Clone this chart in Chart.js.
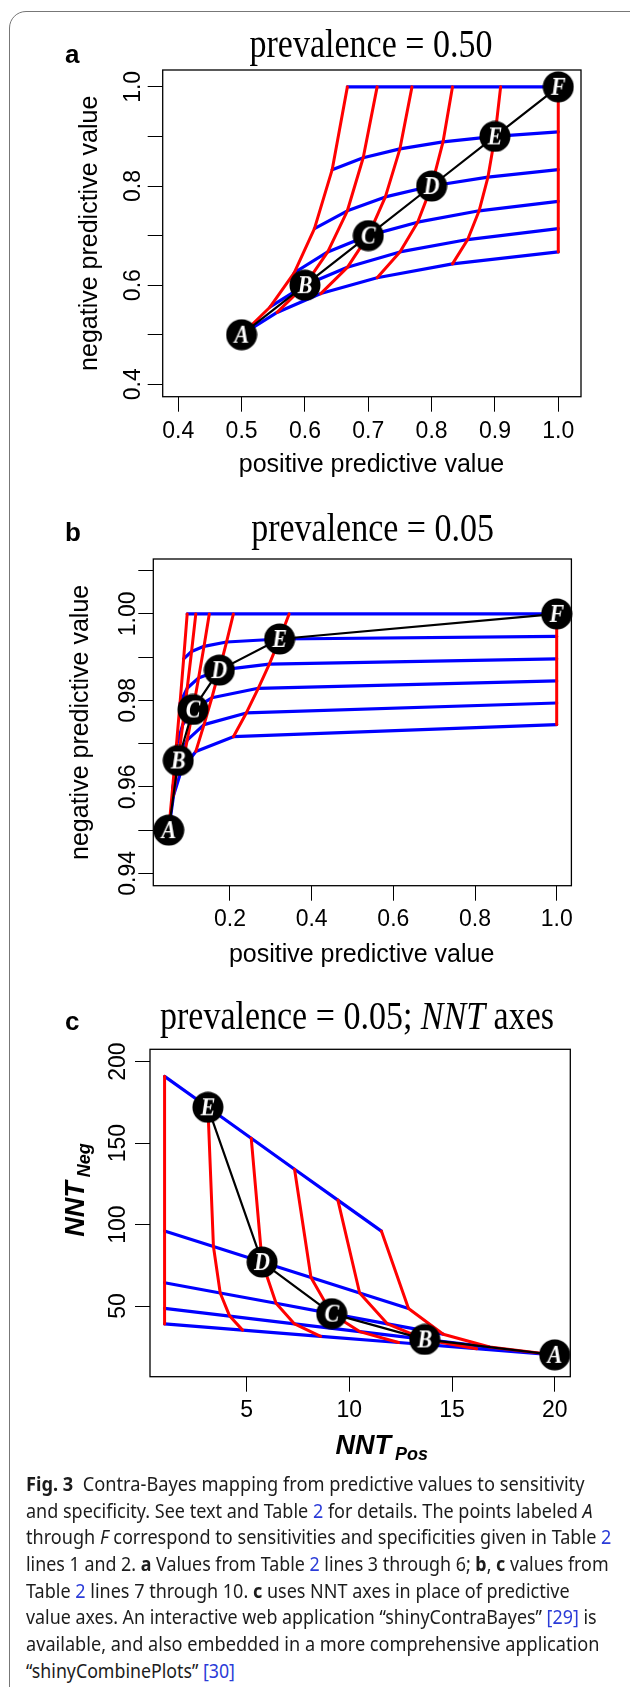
<!DOCTYPE html>
<html>
<head>
<meta charset="utf-8">
<script src="https://cdn.jsdelivr.net/npm/chart.js@4.4.0/dist/chart.umd.min.js"></script>
<style>
  html, body { margin: 0; padding: 0; background: #fff; }
  body { width: 630px; height: 1687px; position: relative; overflow: hidden; }
  #frame { position: absolute; left: 9px; top: 11px; width: 700px; height: 1800px;
           border: 1.4px solid #777; border-radius: 17px; box-sizing: border-box; }
  canvas.panel { position: absolute; left: 0; }
  #caption { position: absolute; left: 26px; top: 0; font-family: "Noto Sans", "Open Sans", sans-serif;
             font-size: 19.5px; line-height: 19.5px; color: #1c1c1c; }
  #caption .line { position: absolute; left: 0; white-space: nowrap; transform-origin: 0 0; }
  #caption .ref { color: #2a3bd8; }
</style>
</head>
<body>
<div id="frame"></div>
<canvas class="panel" id="chartA"></canvas>
<canvas class="panel" id="chartB"></canvas>
<canvas class="panel" id="chartC"></canvas>

<div id="caption">
  <div class="line" data-base="1490" data-w="558.5"><b>Fig. 3</b>&nbsp; Contra-Bayes mapping from predictive values to sensitivity</div>
  <div class="line" data-base="1516.7" data-w="566.6">and specificity. See text and Table <span class="ref">2</span> for details. The points labeled <i>A</i></div>
  <div class="line" data-base="1543.3" data-w="585.4">through <i>F</i> correspond to sensitivities and specificities given in Table <span class="ref">2</span></div>
  <div class="line" data-base="1570" data-w="582.6">lines 1 and 2. <b>a</b> Values from Table <span class="ref">2</span> lines 3 through 6; <b>b</b>, <b>c</b> values from</div>
  <div class="line" data-base="1596.7" data-w="543.7">Table <span class="ref">2</span> lines 7 through 10. <b>c</b> uses NNT axes in place of predictive</div>
  <div class="line" data-base="1623.3" data-w="570.6">value axes. An interactive web application “shinyContraBayes” <span class="ref">[29]</span> is</div>
  <div class="line" data-base="1650" data-w="573.4">available, and also embedded in a more comprehensive application</div>
  <div class="line" data-base="1676.7" data-w="208.9">“shinyCombinePlots” <span class="ref">[30]</span></div>
</div>

<script>
// rows = sensitivity 0.5 ... 1.0, columns = specificity 0.5 ... 1.0
// panel a, prevalence 0.50
const ppvA = [
  [0.500, 0.556, 0.625, 0.714, 0.833, 1.000],
  [0.545, 0.600, 0.667, 0.750, 0.857, 1.000],
  [0.583, 0.636, 0.700, 0.778, 0.875, 1.000],
  [0.615, 0.667, 0.727, 0.800, 0.889, 1.000],
  [0.643, 0.692, 0.750, 0.818, 0.900, 1.000],
  [0.667, 0.714, 0.769, 0.833, 0.909, 1.000]
];
const npvA = [
  [0.500, 0.545, 0.583, 0.615, 0.643, 0.667],
  [0.556, 0.600, 0.636, 0.667, 0.692, 0.714],
  [0.625, 0.667, 0.700, 0.727, 0.750, 0.769],
  [0.714, 0.750, 0.778, 0.800, 0.818, 0.833],
  [0.833, 0.857, 0.875, 0.889, 0.900, 0.909],
  [1.000, 1.000, 1.000, 1.000, 1.000, 1.000]
];

// panel b, prevalence 0.05
const ppvB = [
  [0.0500, 0.0617, 0.0806, 0.1163, 0.2083, 1.000],
  [0.0594, 0.0732, 0.0952, 0.1364, 0.2400, 1.000],
  [0.0686, 0.0843, 0.1094, 0.1556, 0.2692, 1.000],
  [0.0777, 0.0952, 0.1231, 0.1739, 0.2963, 1.000],
  [0.0865, 0.1059, 0.1364, 0.1915, 0.3214, 1.000],
  [0.0952, 0.1163, 0.1493, 0.2083, 0.3448, 1.000]
];
const npvB = [
  [0.9500, 0.9580, 0.9638, 0.9682, 0.9716, 0.9744],
  [0.9596, 0.9661, 0.9708, 0.9744, 0.9771, 0.9794],
  [0.9694, 0.9744, 0.9779, 0.9806, 0.9828, 0.9845],
  [0.9794, 0.9828, 0.9852, 0.9870, 0.9884, 0.9896],
  [0.9896, 0.9913, 0.9925, 0.9935, 0.9942, 0.9948],
  [1.0000, 1.0000, 1.0000, 1.0000, 1.0000, 1.0000]
];

// panel c, NNT axes (sensitivity 0.5 ... 0.9 only)
const nntPosC = [
  [20.00, 16.20, 12.40, 8.60, 4.80, 1.00],
  [16.83, 13.67, 10.50, 7.33, 4.17, 1.00],
  [14.57, 11.86, 9.14, 6.43, 3.71, 1.00],
  [12.88, 10.50, 8.13, 5.75, 3.38, 1.00],
  [11.56, 9.44, 7.33, 5.22, 3.11, 1.00]
];
const nntNegC = [
  [20.0, 23.8, 27.6, 31.4, 35.2, 39.0],
  [24.8, 29.5, 34.3, 39.0, 43.8, 48.5],
  [32.7, 39.0, 45.3, 51.7, 58.0, 64.3],
  [48.5, 58.0, 67.5, 77.0, 86.5, 96.0],
  [96.0, 115.0, 134.0, 153.0, 172.0, 191.0]
];

const pointLabels = ['A', 'B', 'C', 'D', 'E', 'F'];

const aXTicks = [0.4, 0.5, 0.6, 0.7, 0.8, 0.9, 1.0];
const aXTickLabels = ['0.4', '0.5', '0.6', '0.7', '0.8', '0.9', '1.0'];
const aYTicks = [0.4, 0.5, 0.6, 0.7, 0.8, 0.9, 1.0];
const aYLabelAt = [0.4, 0.6, 0.8, 1.0];
const aYLabels = ['0.4', '0.6', '0.8', '1.0'];

const bXTicks = [0.2, 0.4, 0.6, 0.8, 1.0];
const bXTickLabels = ['0.2', '0.4', '0.6', '0.8', '1.0'];
const bYTicks = [0.94, 0.95, 0.96, 0.97, 0.98, 0.99, 1.00, 1.01];
const bYLabelAt = [0.94, 0.96, 0.98, 1.00];
const bYLabels = ['0.94', '0.96', '0.98', '1.00'];

const cXTicks = [5, 10, 15, 20];
const cXTickLabels = ['5', '10', '15', '20'];
const cYTicks = [50, 100, 150, 200];
const cYLabelAt = [50, 100, 150, 200];
const cYLabels = ['50', '100', '150', '200'];

const SANS = '"Liberation Sans", Arial, Helvetica, sans-serif';
const SERIF = '"Liberation Serif", "Times New Roman", serif';
const BLUE = '#0000ff';
const RED = '#ff0000';

function markerImage(letter) {
  const c = document.createElement('canvas');
  c.width = 32; c.height = 32;
  const g = c.getContext('2d');
  g.fillStyle = '#000';
  g.beginPath(); g.arc(16, 16, 15.5, 0, Math.PI * 2); g.fill();
  g.fillStyle = '#fff';
  g.font = 'italic bold 22px ' + SERIF;
  g.textAlign = 'center';
  g.textBaseline = 'alphabetic';
  g.save();
  g.translate(16, 23.5);
  g.scale(1, 1.1);
  g.fillText(letter, 0, 0);
  g.restore();
  return c;
}

function txt(ctx, s, x, y, font, align, rotated) {
  ctx.save();
  ctx.font = font;
  ctx.fillStyle = '#000';
  ctx.textAlign = align || 'left';
  ctx.textBaseline = 'alphabetic';
  ctx.translate(x, y);
  if (rotated) ctx.rotate(-Math.PI / 2);
  ctx.fillText(s, 0, 0);
  ctx.restore();
}

// draws runs of text in a row, centred on x, a little taller than wide
function runs(ctx, parts, x, y) {
  ctx.save();
  let total = 0;
  parts.forEach(p => { ctx.font = p.font; total += ctx.measureText(p.text).width; });
  ctx.translate(x - total / 2, y);
  ctx.scale(1, 1.15);
  let cx = 0;
  ctx.fillStyle = '#000';
  ctx.textBaseline = 'alphabetic';
  ctx.textAlign = 'left';
  parts.forEach(p => {
    ctx.font = p.font;
    ctx.fillText(p.text, cx, 0);
    cx += ctx.measureText(p.text).width;
  });
  ctx.restore();
}

function makePanel(id, p) {
  const canvas = document.getElementById(id);
  canvas.width = 630;
  canvas.height = p.height;
  canvas.style.top = p.top + 'px';

  const Y_W = 40, X_H = 55;
  const nRows = p.xs.length, nCols = p.xs[0].length;
  const diag = [];
  for (let i = 0; i < nRows; i++) diag.push(i);
  const diagData = diag.map(i => ({ x: p.xs[i][i], y: p.ys[i][i] }));

  const datasets = [];
  datasets.push({
    data: diagData,
    pointStyle: diag.map(i => markerImage(pointLabels[i])),
    pointRadius: 15,
    showLine: false,
    order: 0,
    clip: false
  });
  datasets.push({
    data: diagData, showLine: true, borderColor: '#000', borderWidth: 2.2,
    pointRadius: 0, order: 1, clip: false, borderCapStyle: 'round', borderJoinStyle: 'round'
  });
  for (let j = 0; j < nCols; j++) {
    const data = [];
    for (let i = 0; i < nRows; i++) data.push({ x: p.xs[i][j], y: p.ys[i][j] });
    datasets.push({
      data, showLine: true, borderColor: RED, borderWidth: 3, pointRadius: 0, order: 2,
      clip: false, borderCapStyle: 'round', borderJoinStyle: 'round'
    });
  }
  for (let i = 0; i < nRows; i++) {
    datasets.push({
      data: p.xs[i].map((x, j) => ({ x, y: p.ys[i][j] })), showLine: true, borderColor: BLUE,
      borderWidth: 3.2, pointRadius: 0, order: 3, clip: false,
      borderCapStyle: 'round', borderJoinStyle: 'round'
    });
  }

  const framePlugin = {
    id: 'frameBox',
    beforeDatasetsDraw(chart) {
      const a = chart.chartArea, ctx = chart.ctx;
      ctx.save();
      ctx.strokeStyle = '#000';
      ctx.lineWidth = 1.3;
      ctx.strokeRect(a.left, a.top, a.right - a.left, a.bottom - a.top);
      ctx.restore();
    },
    afterDraw(chart) {
      const ctx = chart.ctx;
      const ys = chart.scales.y;
      p.yLabelAt.forEach((v, k) => {
        txt(ctx, p.yLabels[k], p.yLabelX, ys.getPixelForValue(v), '23px ' + SANS, 'center', true);
      });
      p.texts(ctx, p.top);
    }
  };

  return new Chart(canvas, {
    type: 'scatter',
    data: { datasets },
    options: {
      responsive: false,
      animation: false,
      events: [],
      layout: {
        padding: {
          left: p.box.l - Y_W,
          right: 630 - p.box.r,
          top: p.box.t - p.top,
          bottom: p.height - (p.box.b - p.top) - X_H
        }
      },
      plugins: { legend: { display: false }, tooltip: { enabled: false }, title: { display: false } },
      scales: {
        x: {
          type: 'linear', min: p.xMin, max: p.xMax,
          afterBuildTicks: s => { s.ticks = p.xTicks.map(v => ({ value: v })); },
          afterFit: s => { s.height = X_H; },
          grid: { drawOnChartArea: false, drawTicks: true, tickLength: 15, color: '#000', lineWidth: 1 },
          border: { display: false },
          ticks: {
            color: '#000', font: { family: SANS, size: 23 }, padding: p.xPad,
            maxRotation: 0, minRotation: 0, autoSkip: false,
            callback: (v, i) => p.xLabels[i]
          }
        },
        y: {
          type: 'linear', min: p.yMin, max: p.yMax,
          afterBuildTicks: s => { s.ticks = p.yTicks.map(v => ({ value: v })); },
          afterFit: s => { s.width = Y_W; },
          grid: { drawOnChartArea: false, drawTicks: true, tickLength: 15, color: '#000', lineWidth: 1 },
          border: { display: false },
          ticks: { display: false }
        }
      }
    },
    plugins: [framePlugin]
  });
}

makePanel('chartA', {
  top: 0, height: 490,
  box: { l: 162.7, t: 70, r: 581, b: 396.7 },
  xMin: 0.3754, xMax: 1.0359, yMin: 0.375, yMax: 1.034,
  xs: ppvA, ys: npvA,
  xTicks: aXTicks, xLabels: aXTickLabels, xPad: 6.5,
  yTicks: aYTicks, yLabelAt: aYLabelAt, yLabels: aYLabels, yLabelX: 140,
  texts(ctx, top) {
    txt(ctx, 'a', 65, 63 - top, 'bold 26px ' + SANS, 'left');
    runs(ctx, [{ text: 'prevalence = 0.50', font: '34px ' + SERIF }], 371, 57 - top);
    txt(ctx, 'negative predictive value', 97, 233.3 - top, '25px ' + SANS, 'center', true);
    txt(ctx, 'positive predictive value', 371.5, 471.7 - top, '25px ' + SANS, 'center');
  }
});

makePanel('chartB', {
  top: 490, height: 495,
  box: { l: 153.3, t: 559, r: 571.4, b: 885.7 },
  xMin: 0.0122, xMax: 1.036, yMin: 0.93714, yMax: 1.0127,
  xs: ppvB, ys: npvB,
  xTicks: bXTicks, xLabels: bXTickLabels, xPad: 5.2,
  yTicks: bYTicks, yLabelAt: bYLabelAt, yLabels: bYLabels, yLabelX: 134.5,
  texts(ctx, top) {
    txt(ctx, 'b', 65, 541 - top, 'bold 26px ' + SANS, 'left');
    runs(ctx, [{ text: 'prevalence = 0.05', font: '34px ' + SERIF }], 372.6, 541 - top);
    txt(ctx, 'negative predictive value', 88, 722.4 - top, '25px ' + SANS, 'center', true);
    txt(ctx, 'positive predictive value', 361.6, 961.7 - top, '25px ' + SANS, 'center');
  }
});

makePanel('chartC', {
  top: 985, height: 490,
  box: { l: 150, t: 1049.3, r: 570.3, b: 1376.7 },
  xMin: 0.29, xMax: 20.76, yMin: 6.6, yMax: 207.6,
  xs: nntPosC, ys: nntNegC,
  xTicks: cXTicks, xLabels: cXTickLabels, xPad: 4.8,
  yTicks: cYTicks, yLabelAt: cYLabelAt, yLabels: cYLabels, yLabelX: 125,
  texts(ctx, top) {
    txt(ctx, 'c', 65, 1030 - top, 'bold 26px ' + SANS, 'left');
    runs(ctx, [
      { text: 'prevalence = 0.05; ', font: '34px ' + SERIF },
      { text: 'NNT', font: 'italic 34px ' + SERIF },
      { text: ' axes', font: '34px ' + SERIF }
    ], 357, 1029 - top);
    // y axis title NNT_Neg, reading upwards
    ctx.save();
    ctx.translate(83.6, 1236.7 - top);
    ctx.rotate(-Math.PI / 2);
    ctx.fillStyle = '#000';
    ctx.textBaseline = 'alphabetic';
    ctx.font = 'italic bold 27px ' + SANS;
    ctx.fillText('NNT', 0, 0);
    const w1 = ctx.measureText('NNT').width;
    ctx.font = 'italic bold 18px ' + SANS;
    ctx.fillText('Neg', w1 + 4, 6);
    ctx.restore();
    // x axis title NNT_Pos
    ctx.save();
    ctx.fillStyle = '#000';
    ctx.textBaseline = 'alphabetic';
    ctx.font = 'italic bold 27px ' + SANS;
    ctx.fillText('NNT', 335.5, 1454 - top);
    const w2 = ctx.measureText('NNT').width;
    ctx.font = 'italic bold 18px ' + SANS;
    ctx.fillText('Pos', 335.5 + w2 + 4, 1460 - top);
    ctx.restore();
  }
});

// caption lines: put each baseline in place and fit each line to its width
const fitCaption = () => {
  document.querySelectorAll('#caption .line').forEach(el => {
    const base = parseFloat(el.dataset.base);
    el.style.top = (base - 16) + 'px';
    el.style.transform = 'none';
    const w = el.getBoundingClientRect().width;
    const target = parseFloat(el.dataset.w);
    el.style.transform = 'scaleX(' + (target / w).toFixed(4) + ')';
  });
};
fitCaption();
if (document.fonts && document.fonts.ready) document.fonts.ready.then(fitCaption);
</script>
</body>
</html>
